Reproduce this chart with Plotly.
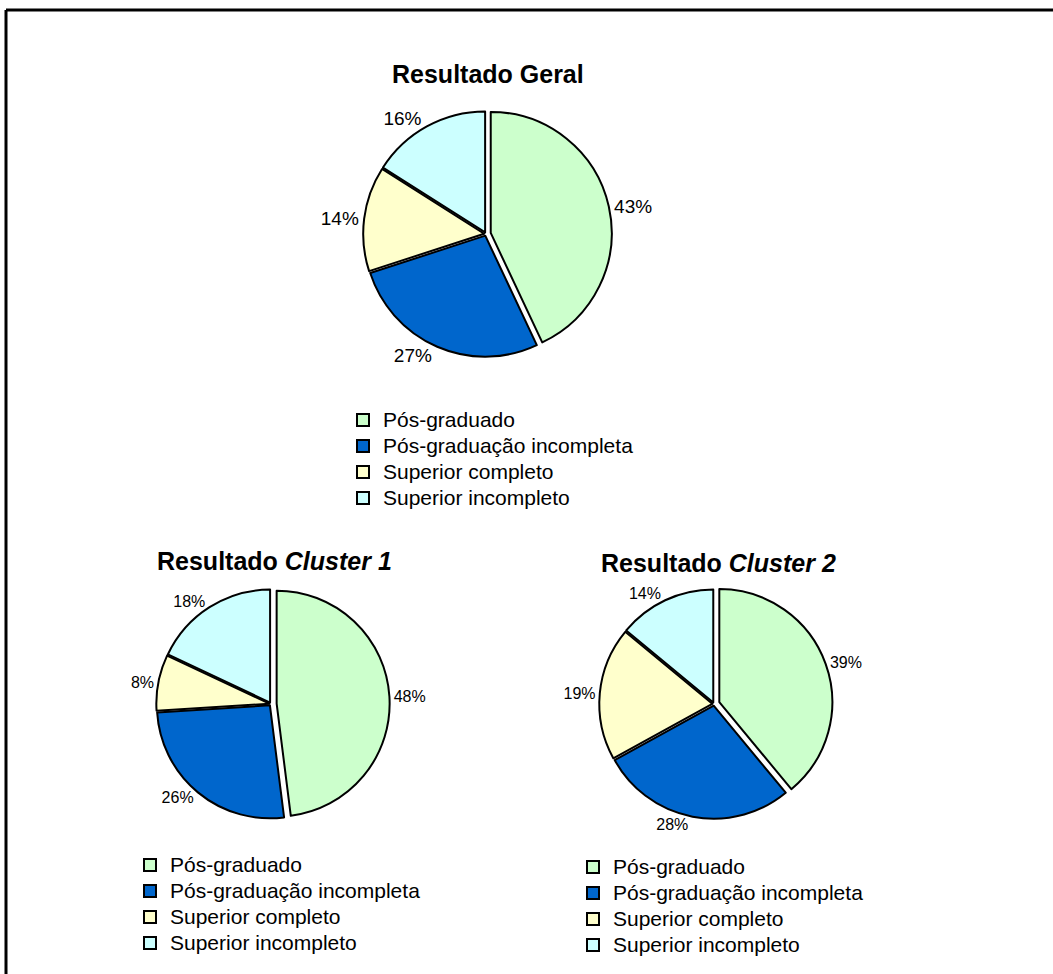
import plotly.graph_objects as go

W, H = 1053, 974

categories = ["Pós-graduado", "Pós-graduação incompleta", "Superior completo", "Superior incompleto"]
geral = [43, 27, 14, 16]
cluster1 = [48, 26, 8, 18]
cluster2 = [39, 28, 19, 14]

colors = ["#CCFFCC", "#0066CC", "#FFFFCC", "#CCFFFF"]
FONT = "Arial, Liberation Sans, sans-serif"
LEGEND_TEXT_SIZE = 21


def px_x(x):
    return x / W


def px_y(y):
    return 1 - y / H


def domain(cx, cy, r, maxpull):
    half = r * (1 + maxpull)
    return dict(x=[px_x(cx - half), px_x(cx + half)], y=[px_y(cy + half), px_y(cy - half)])


def legend_labels(suffix):
    # zero-width suffix (inside the span) keeps each pie's legend entries independent
    return [f'<span style="font-size:{LEGEND_TEXT_SIZE}px">{c}{suffix}</span>' for c in categories]


fig = go.Figure()

specs = [
    (geral, (486, 234, 121), [0.04, 0.015, 0.015, 0.015], 19, "legend", ""),
    (cluster1, (271, 704, 113), [0.05, 0.015, 0.015, 0.015], 16, "legend2", "\u200b"),
    (cluster2, (714, 704, 113), [0.05, 0.015, 0.015, 0.015], 16, "legend3", "\u200b\u200b"),
]

for vals, (cx, cy, r), pull, fs, leg, suf in specs:
    fig.add_trace(go.Pie(
        labels=legend_labels(suf),
        values=vals,
        sort=False,
        direction="clockwise",
        rotation=0,
        pull=pull,
        marker=dict(colors=colors, line=dict(color="black", width=2)),
        textinfo="percent",
        texttemplate="%{percent:.0%}",
        textposition="outside",
        outsidetextfont=dict(family=FONT, size=fs, color="black"),
        domain=domain(cx, cy, r, max(pull)),
        legend=leg,
        hoverinfo="label+percent",
    ))

legend_common = dict(
    font=dict(family=FONT, size=17.7, color="black"),
    bgcolor="rgba(0,0,0,0)",
    xanchor="left",
    yanchor="top",
    traceorder="normal",
)

title_font = dict(family=FONT, size=25, color="black")

fig.update_layout(
    width=W,
    height=H,
    margin=dict(l=0, r=0, t=0, b=0),
    paper_bgcolor="white",
    plot_bgcolor="white",
    showlegend=True,
    legend=dict(x=px_x(343), y=px_y(402), **legend_common),
    legend2=dict(x=px_x(130), y=px_y(847), **legend_common),
    legend3=dict(x=px_x(573), y=px_y(849), **legend_common),
    annotations=[
        dict(text="<b>Resultado Geral</b>", x=px_x(488), y=px_y(74), xref="paper", yref="paper",
             xanchor="center", yanchor="middle", showarrow=False, font=title_font),
        dict(text="<b>Resultado <i>Cluster 1</i></b>", x=px_x(274), y=px_y(561), xref="paper", yref="paper",
             xanchor="center", yanchor="middle", showarrow=False, font=title_font),
        dict(text="<b>Resultado <i>Cluster 2</i></b>", x=px_x(718), y=px_y(563), xref="paper", yref="paper",
             xanchor="center", yanchor="middle", showarrow=False, font=title_font),
    ],
    shapes=[
        dict(type="line", xref="paper", yref="paper", x0=px_x(6), x1=1.0, y0=px_y(10), y1=px_y(10),
             line=dict(color="black", width=3)),
        dict(type="line", xref="paper", yref="paper", x0=px_x(6), x1=px_x(6), y0=px_y(10), y1=0.0,
             line=dict(color="black", width=3)),
    ],
)

fig.write_html("out.html")
